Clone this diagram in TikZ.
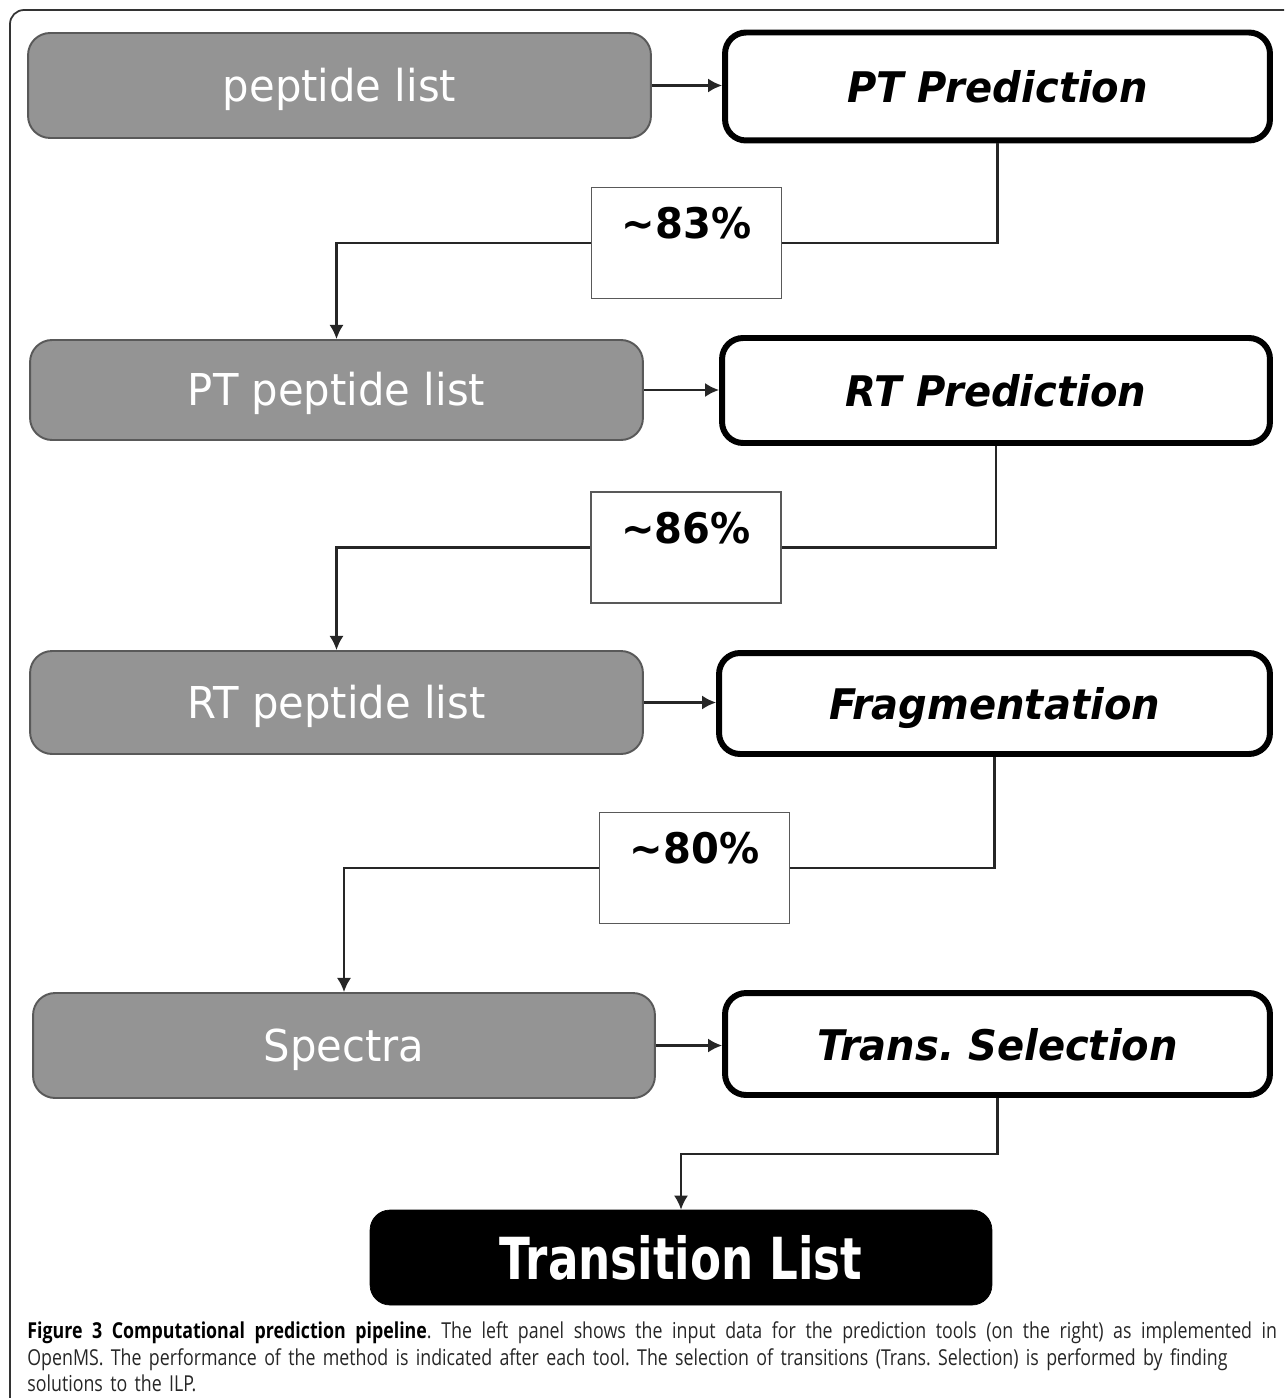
\documentclass[tikz,border=0pt]{standalone}
\usepackage{fontspec}
\usepackage{tikz}
\usetikzlibrary{arrows.meta,positioning,calc}

\newfontfamily\boxfont[FakeStretch=0.95]{DejaVu Sans}
\newfontfamily\listfont[FakeStretch=0.78]{DejaVu Sans}
\newfontfamily\capfont[FakeStretch=0.81]{Open Sans}
\frenchspacing

\begin{document}
\begin{tikzpicture}[
    x=0.02cm, y=-0.02cm,
    datbox/.style={rectangle, draw=black!65, line width=1.1pt, fill=black!42, rounded corners=0.44cm, inner sep=0pt, text height=0.64cm, text depth=0pt, text=white, font=\boxfont\fontsize{25}{29}\selectfont},
    toolbox/.style={rectangle, draw=black, line width=3.4pt, fill=white, rounded corners=0.42cm, inner sep=0pt, text height=0.64cm, text depth=0pt, font=\boxfont\bfseries\itshape\fontsize{24}{28}\selectfont},
    ratebox/.style={rectangle, draw=black!65, line width=0.9pt, fill=white, minimum width=3.8cm, inner sep=0pt, text height=1.02cm, text depth=1.2cm, font=\boxfont\bfseries\fontsize{24}{28}\selectfont},
    outbox/.style={rectangle, draw=black, fill=black, rounded corners=0.4cm, inner sep=0pt, text=white, font=\listfont\bfseries\fontsize{33}{38}\selectfont},
    caption/.style={inner sep=0pt, text width=25cm, align=left, text=black!85, font=\capfont\fontsize{12.5}{15.3}\selectfont},
    line/.style={draw=black!85, line width=1.2pt},
    arrow/.style={->, draw=black!85, line width=1.2pt, >={Latex[length=8pt,width=8pt]}}
]
    \useasboundingbox (0,0) rectangle (1284,1398);

    % Frame
    \draw[black!80, line width=1pt, rounded corners=8pt] (1284,10) -- (10,10) -- (10,1398);

    % Input data
    \node[datbox, minimum width=12.46cm, minimum height=2.1cm] (pep) at (339.5,85.5) {peptide list};
    \node[datbox, minimum width=12.26cm, minimum height=2.0cm] (ptl) at (336.5,390) {PT peptide list};
    \node[datbox, minimum width=12.26cm, minimum height=2.06cm] (rtl) at (336.5,702.5) {RT peptide list};
    \node[datbox, minimum width=12.44cm, minimum height=2.1cm] (spec) at (344,1045.5) {Spectra};

    % Tools
    \node[toolbox, minimum width=10.9cm, minimum height=2.16cm] (ptp) at (997.5,86.5) {PT Prediction};
    \node[toolbox, minimum width=10.96cm, minimum height=2.1cm] (rtp) at (996,390.5) {RT Prediction};
    \node[toolbox, minimum width=11.02cm, minimum height=2.02cm] (frg) at (994.5,703.5) {Fragmentation};
    \node[toolbox, minimum width=10.9cm, minimum height=2.04cm] (tsel) at (997.5,1044) {Trans. Selection};

    % Performance
    \node[ratebox] (r83) at (686.5,243) {\textasciitilde83\%};
    \node[ratebox] (r86) at (686,547.5) {\textasciitilde86\%};
    \node[ratebox] (r80) at (694.5,868) {\textasciitilde80\%};

    % Output
    \node[outbox, minimum width=12.44cm, minimum height=1.9cm] (tl) at (681,1257.5) {Transition List};

    % Arrows
    \draw[arrow] (pep.east) -- (pep.east -| ptp.west);
    \draw[arrow] (ptl.east) -- (ptl.east -| rtp.west);
    \draw[arrow] (rtl.east) -- (rtl.east -| frg.west);
    \draw[arrow] (spec.east) -- (spec.east -| tsel.west);
    \draw[line] (ptp.south) |- (r83.east);
    \draw[arrow] (r83.west) -| (ptl.north);
    \draw[line] (rtp.south) |- (r86.east);
    \draw[arrow] (r86.west) -| (rtl.north);
    \draw[line] (frg.south) |- (r80.east);
    \draw[arrow] (r80.west) -| (spec.north);
    \draw[arrow] (tsel.south) |- ($(tsel.south)!.5!(tl.north)$) -| (tl.north);

    % Caption
    \node[caption, anchor=north west] (cap) at (27,1321) {\hbox to 25cm{\spaceskip=0pt\xspaceskip=0pt\textcolor{black}{\bfseries Figure 3 Computational prediction pipeline}. The left panel shows the input data for the prediction tools (on the right) as implemented in}\\
    OpenMS. The performance of the method is indicated after each tool. The selection of transitions (Trans. Selection) is performed by finding\\
    solutions to the ILP.};
\end{tikzpicture}
\end{document}
